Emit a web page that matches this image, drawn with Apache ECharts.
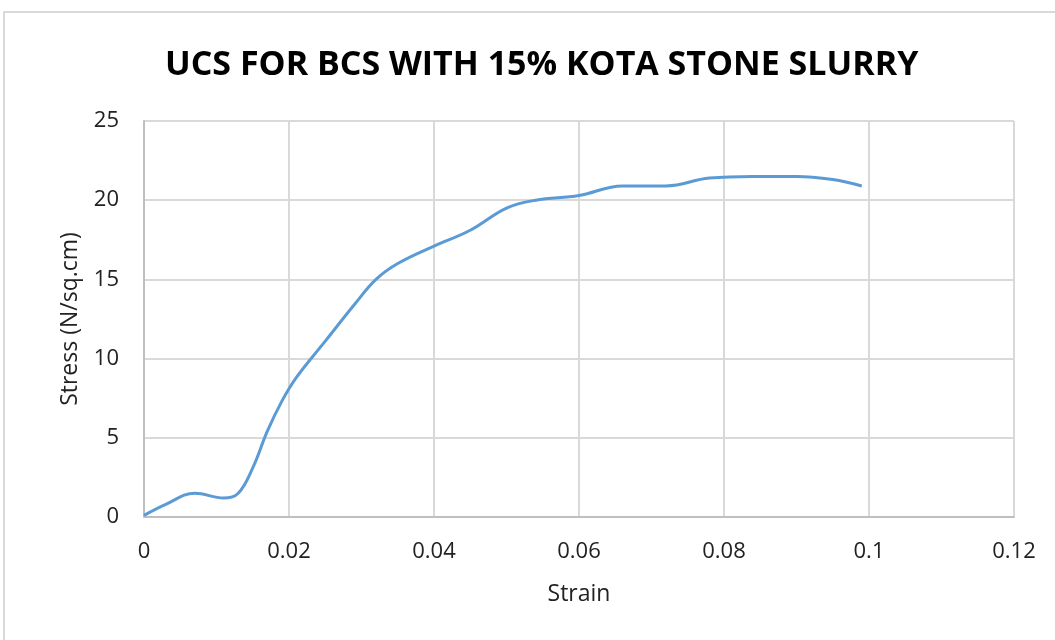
<!DOCTYPE html>
<html>
<head>
<meta charset="utf-8">
<script src="https://cdn.jsdelivr.net/npm/echarts@6/dist/echarts.min.js"></script>
<style>
  html, body { margin: 0; padding: 0; background: #fff; }
  #chart { width: 1055px; height: 640px; }
</style>
</head>
<body>
<div id="chart"></div>
<script>
// strain vs stress
var strain = [0, 0.003, 0.007, 0.011, 0.013, 0.015, 0.017, 0.019, 0.021, 0.025, 0.029, 0.032, 0.035, 0.040, 0.045, 0.050, 0.054, 0.060, 0.066, 0.072, 0.078, 0.084, 0.090, 0.095, 0.099]
var stress = [0.1, 0.8, 1.5, 1.2, 1.5, 3.1, 5.4, 7.3, 8.8, 11.1, 13.4, 15.0, 16.0, 17.1, 18.1, 19.5, 20.0, 20.3, 20.9, 20.9, 21.4, 21.5, 21.5, 21.3, 20.9]

var points = strain.map(function (s, i) { return [s, stress[i]] })

var labelFont = 'Open Sans, sans-serif'

var myChart = echarts.init(document.getElementById('chart'))
myChart.setOption({
  animation: false,
  graphic: [
    {
      type: 'rect',
      shape: { x: 4, y: 12, width: 1100, height: 700 },
      style: { fill: 'none', stroke: '#d9d9d9', lineWidth: 2 },
    },
  ],
  title: {
    text: 'UCS FOR BCS WITH 15% KOTA STONE SLURRY',
    left: 160,
    top: 43,
    textStyle: {
      fontFamily: labelFont,
      fontWeight: 'bold',
      fontSize: 34,
      color: '#000',
    },
  },
  grid: {
    left: 144,
    right: 41,
    top: 121,
    bottom: 123,
  },
  xAxis: {
    type: 'value',
    min: 0,
    max: 0.12,
    interval: 0.02,
    name: 'Strain',
    nameLocation: 'middle',
    nameGap: 66,
    nameTextStyle: { fontFamily: labelFont, fontSize: 23, color: '#222' },
    axisLine: { lineStyle: { color: '#bfbfbf', width: 2 } },
    axisTick: { show: false },
    splitLine: { lineStyle: { color: '#d9d9d9', width: 2 } },
    axisLabel: {
      margin: 24,
      fontFamily: labelFont,
      fontSize: 22,
      color: '#222',
    },
  },
  yAxis: {
    type: 'value',
    min: 0,
    max: 25,
    interval: 5,
    name: 'Stress (N/sq.cm)',
    nameLocation: 'middle',
    nameGap: 62,
    nameTextStyle: { fontFamily: labelFont, fontSize: 23, color: '#222' },
    axisLine: { show: true, lineStyle: { color: '#bfbfbf', width: 2 } },
    axisTick: { show: false },
    splitLine: { lineStyle: { color: '#d9d9d9', width: 2 } },
    axisLabel: {
      margin: 25,
      fontFamily: labelFont,
      fontSize: 22,
      color: '#222',
    },
  },
  series: [
    {
      name: 'Stress',
      type: 'line',
      data: points,
      smooth: 0.4,
      showSymbol: false,
      lineStyle: { color: '#5b9bd5', width: 3 },
    },
  ],
})
</script>
</body>
</html>
